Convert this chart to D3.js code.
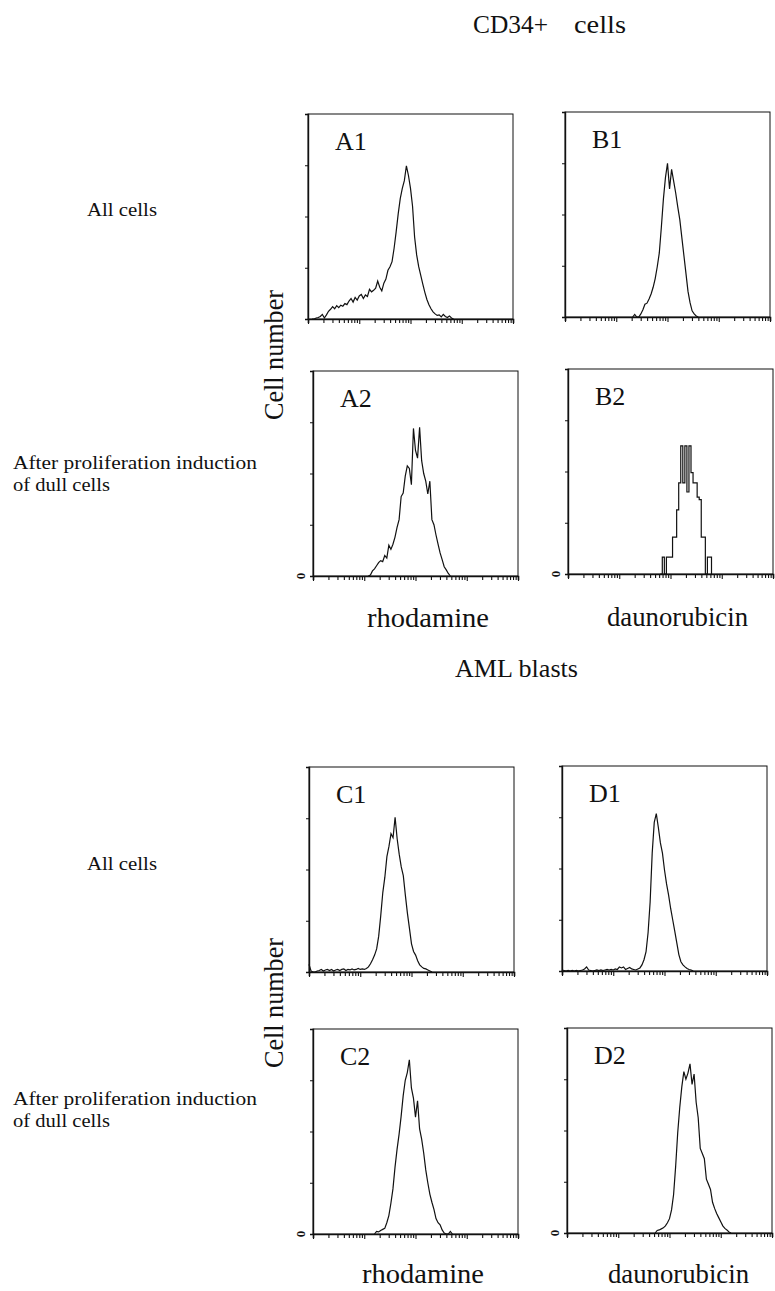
<!DOCTYPE html>
<html>
<head>
<meta charset="utf-8">
<script src="https://cdn.jsdelivr.net/npm/d3@7"></script>
<style>
  html, body { margin: 0; padding: 0; background: #fff; }
  svg { display: block; }
  text { font-family: "Liberation Serif", "DejaVu Serif", serif; fill: #111; }
</style>
</head>
<body>
<svg id="fig" width="775" height="1291"></svg>
<script>
// Flow cytometry histograms: x = fluorescence (4-decade log), y = cell number (0-4 units).
// Each histogram is a run of channel bins starting at a given decade, step in decades.
const binStep = 0.04;

const a1Start = 0.08;
const a1Counts = [0.0, 0.0, 0.02, 0.03, 0.05, 0.09, 0.02, 0.08, 0.15, 0.19, 0.24, 0.20, 0.26, 0.22,
  0.27, 0.25, 0.30, 0.28, 0.35, 0.40, 0.33, 0.42, 0.37, 0.45, 0.48, 0.40, 0.47, 0.44, 0.58, 0.53,
  0.56, 0.60, 0.74, 0.62, 0.55, 0.70, 0.78, 0.95, 1.02, 1.12, 1.38, 1.70, 2.05, 2.35, 2.55, 2.70,
  2.99, 2.80, 2.55, 2.20, 1.60, 1.25, 1.02, 0.85, 0.68, 0.52, 0.38, 0.28, 0.20, 0.14, 0.10, 0.07,
  0.08, 0.04, 0.09, 0.05, 0.03, 0.06, 0.02, 0.0];

const b1Start = 1.32;
const b1Counts = [0.0, 0.05, 0.0, 0.0, 0.06, 0.14, 0.25, 0.27, 0.35, 0.45, 0.58, 0.75, 0.98, 1.25,
  1.75, 2.30, 2.72, 3.00, 2.50, 2.88, 2.65, 2.42, 2.15, 1.90, 1.55, 1.20, 0.85, 0.50, 0.28, 0.12,
  0.06, 0.02, 0.0];

const a2Start = 1.08;
const a2Counts = [0.0, 0.02, 0.10, 0.14, 0.20, 0.26, 0.30, 0.28, 0.40, 0.35, 0.60, 0.52, 0.62, 0.76,
  0.95, 1.10, 1.55, 1.62, 1.95, 2.15, 2.10, 1.78, 2.88, 2.45, 2.30, 2.90, 2.25, 2.00, 1.85, 1.60,
  1.85, 1.10, 1.00, 0.80, 0.62, 0.45, 0.32, 0.18, 0.12, 0.05, 0.0];

const b2Start = 1.80;
const b2Counts = [0.0, 0.33, 0.0, 0.33, 0.33, 0.33, 0.72, 0.72, 1.25, 1.78, 2.50, 1.78, 2.50, 1.60,
  2.50, 1.98, 1.78, 1.78, 1.50, 1.45, 0.72, 0.72, 0.0, 0.33, 0.33, 0.0];

const c1Start = 0.0;
const c1Counts = [0.15, 0.02, 0.0, 0.0, 0.02, 0.03, 0.05, 0.02, 0.04, 0.05, 0.03, 0.05, 0.02, 0.04,
  0.05, 0.03, 0.05, 0.06, 0.03, 0.05, 0.04, 0.06, 0.04, 0.05, 0.07, 0.05, 0.06, 0.05, 0.07, 0.10,
  0.16, 0.24, 0.33, 0.45, 0.70, 1.10, 1.55, 1.85, 2.25, 2.45, 2.70, 2.62, 3.02, 2.60, 2.30, 2.05,
  1.88, 1.50, 1.15, 0.85, 0.55, 0.40, 0.33, 0.22, 0.14, 0.10, 0.07, 0.06, 0.04, 0.02, 0.0];

const d1Start = 0.0;
const d1Counts = [0.02, 0.01, 0.0, 0.01, 0.0, 0.01, 0.0, 0.01, 0.0, 0.01, 0.02, 0.04, 0.08, 0.02,
  0.01, 0.0, 0.01, 0.02, 0.01, 0.02, 0.01, 0.02, 0.03, 0.02, 0.03, 0.02, 0.04, 0.03, 0.08, 0.06,
  0.08, 0.03, 0.05, 0.07, 0.04, 0.03, 0.02, 0.04, 0.06, 0.12, 0.22, 0.38, 0.75, 1.35, 2.30, 2.90,
  3.07, 2.80, 2.50, 2.30, 1.97, 1.70, 1.48, 1.22, 1.00, 0.78, 0.55, 0.32, 0.18, 0.12, 0.08, 0.05,
  0.03, 0.02, 0.0];

const c2Start = 1.20;
const c2Counts = [0.0, 0.05, 0.04, 0.07, 0.09, 0.11, 0.22, 0.36, 0.60, 0.88, 1.30, 1.65, 1.95, 2.30,
  2.70, 3.00, 3.15, 3.40, 2.85, 2.65, 2.28, 2.60, 2.05, 1.85, 1.58, 1.25, 1.00, 0.78, 0.62, 0.48,
  0.30, 0.22, 0.18, 0.08, 0.02, 0.0, 0.0, 0.05, 0.0];

const d2Start = 1.72;
const d2Counts = [0.0, 0.05, 0.06, 0.08, 0.10, 0.14, 0.20, 0.28, 0.45, 0.75, 1.30, 1.95, 2.45, 2.85,
  3.15, 3.00, 3.12, 3.30, 2.90, 3.10, 2.55, 2.25, 1.65, 1.55, 1.45, 1.05, 0.95, 0.85, 0.60, 0.48,
  0.38, 0.30, 0.22, 0.14, 0.09, 0.06, 0.02, 0.0];

const yTicks = [1, 2, 3];
const xDomain = [1, 10000];
const yDomain = [0, 4];

const panels = [
  { name: "A1", start: a1Start, counts: a1Counts, x: 308, y: 114, zero: false, step: false },
  { name: "B1", start: b1Start, counts: b1Counts, x: 565, y: 112, zero: false, step: false },
  { name: "A2", start: a2Start, counts: a2Counts, x: 313, y: 371, zero: true,  step: false },
  { name: "B2", start: b2Start, counts: b2Counts, x: 568, y: 369, zero: true,  step: true  },
  { name: "C1", start: c1Start, counts: c1Counts, x: 309, y: 767, zero: false, step: false },
  { name: "D1", start: d1Start, counts: d1Counts, x: 562, y: 766, zero: false, step: false },
  { name: "C2", start: c2Start, counts: c2Counts, x: 313, y: 1029, zero: true, step: false },
  { name: "D2", start: d2Start, counts: d2Counts, x: 567, y: 1028, zero: true, step: false }
];

const W = 205, H = 205;
const FONT = "Liberation Serif, DejaVu Serif, serif";
const svg = d3.select("#fig");

const x = d3.scaleLog().domain(xDomain).range([0, W]);
const y = d3.scaleLinear().domain(yDomain).range([H, 0]);

// log ticks: 1..9 in every decade, plus the last decade mark
const xTickValues = [];
for (let e = 0; e < 4; e++) for (let k = 1; k <= 9; k++) xTickValues.push(k * 10 ** e);
xTickValues.push(10000);

panels.forEach(p => {
  const g = svg.append("g").attr("transform", `translate(${p.x},${p.y})`);

  // frame
  g.append("rect").attr("width", W).attr("height", H)
    .attr("fill", "none").attr("stroke", "#111").attr("stroke-width", 1);

  // x axis (log) with minor ticks
  const xa = g.append("g").attr("transform", `translate(0,${H})`)
    .call(d3.axisBottom(x).tickValues(xTickValues).tickFormat("").tickSizeOuter(0).tickSize(4));
  xa.select(".domain").attr("stroke", "#111").attr("stroke-width", 1.6);
  xa.selectAll(".tick line").attr("stroke", "#111").attr("stroke-width", 1.1)
    .attr("y2", d => (Math.abs(Math.log10(d) % 1) < 1e-9 ? 5 : 4));

  // y axis
  const ya = g.append("g")
    .call(d3.axisLeft(y).tickValues(yTicks).tickFormat("").tickSizeOuter(0).tickSize(3));
  ya.select(".domain").attr("stroke", "#111").attr("stroke-width", 1.4);
  ya.selectAll(".tick line").attr("stroke", "#111");

  if (p.zero) {
    g.append("text").text("0")
      .attr("transform", `translate(-13,${H}) rotate(-90)`)
      .attr("text-anchor", "middle").attr("dy", "0.35em")
      .attr("font-family", FONT)
      .style("font-size", "13px").style("font-weight", "bold");
  }

  // histogram trace
  const pts = p.counts.map((c, i) => [10 ** (p.start + i * binStep), c]);
  const line = d3.line()
    .x(d => x(d[0])).y(d => y(d[1]))
    .curve(p.step ? d3.curveStepAfter : d3.curveLinear);
  g.append("path").datum(pts).attr("d", line)
    .attr("fill", "none").attr("stroke", "#111").attr("stroke-width", 1.2)
    .attr("stroke-linejoin", "miter");

  // panel label
  g.append("text").text(p.name).attr("x", 27).attr("y", 36)
    .attr("font-family", FONT)
    .style("font-size", "26px");
});

// figure text
function label(txt, px, py, size, len, opts = {}) {
  const t = svg.append("text").text(txt).attr("x", px).attr("y", py)
    .attr("font-family", FONT)
    .style("font-size", size + "px");
  if (len) t.attr("textLength", len).attr("lengthAdjust", "spacingAndGlyphs");
  if (opts.rotate) t.attr("transform", `rotate(-90,${px},${py})`).attr("text-anchor", "middle");
  return t;
}

// group headings
label("CD34+", 473, 33, 25, 75);
label("cells", 574, 33, 25, 52);
label("AML blasts", 455, 677, 25, 123);

// row labels
label("All cells", 87, 216, 19, 70);
label("After proliferation induction", 13, 469, 18, 244);
label("of dull cells", 13, 491, 18, 97);
label("All cells", 87, 870, 19, 70);
label("After proliferation induction", 13, 1105, 18, 244);
label("of dull cells", 13, 1127, 18, 97);

// y-axis titles
label("Cell number", 283, 355, 27, 130, { rotate: true });
label("Cell number", 283, 1003, 27, 130, { rotate: true });

// x-axis titles
label("rhodamine", 367, 627, 27, 122);
label("daunorubicin", 607, 626, 27, 141);
label("rhodamine", 362, 1283, 27, 122);
label("daunorubicin", 608, 1283, 27, 141);
</script>
</body>
</html>
